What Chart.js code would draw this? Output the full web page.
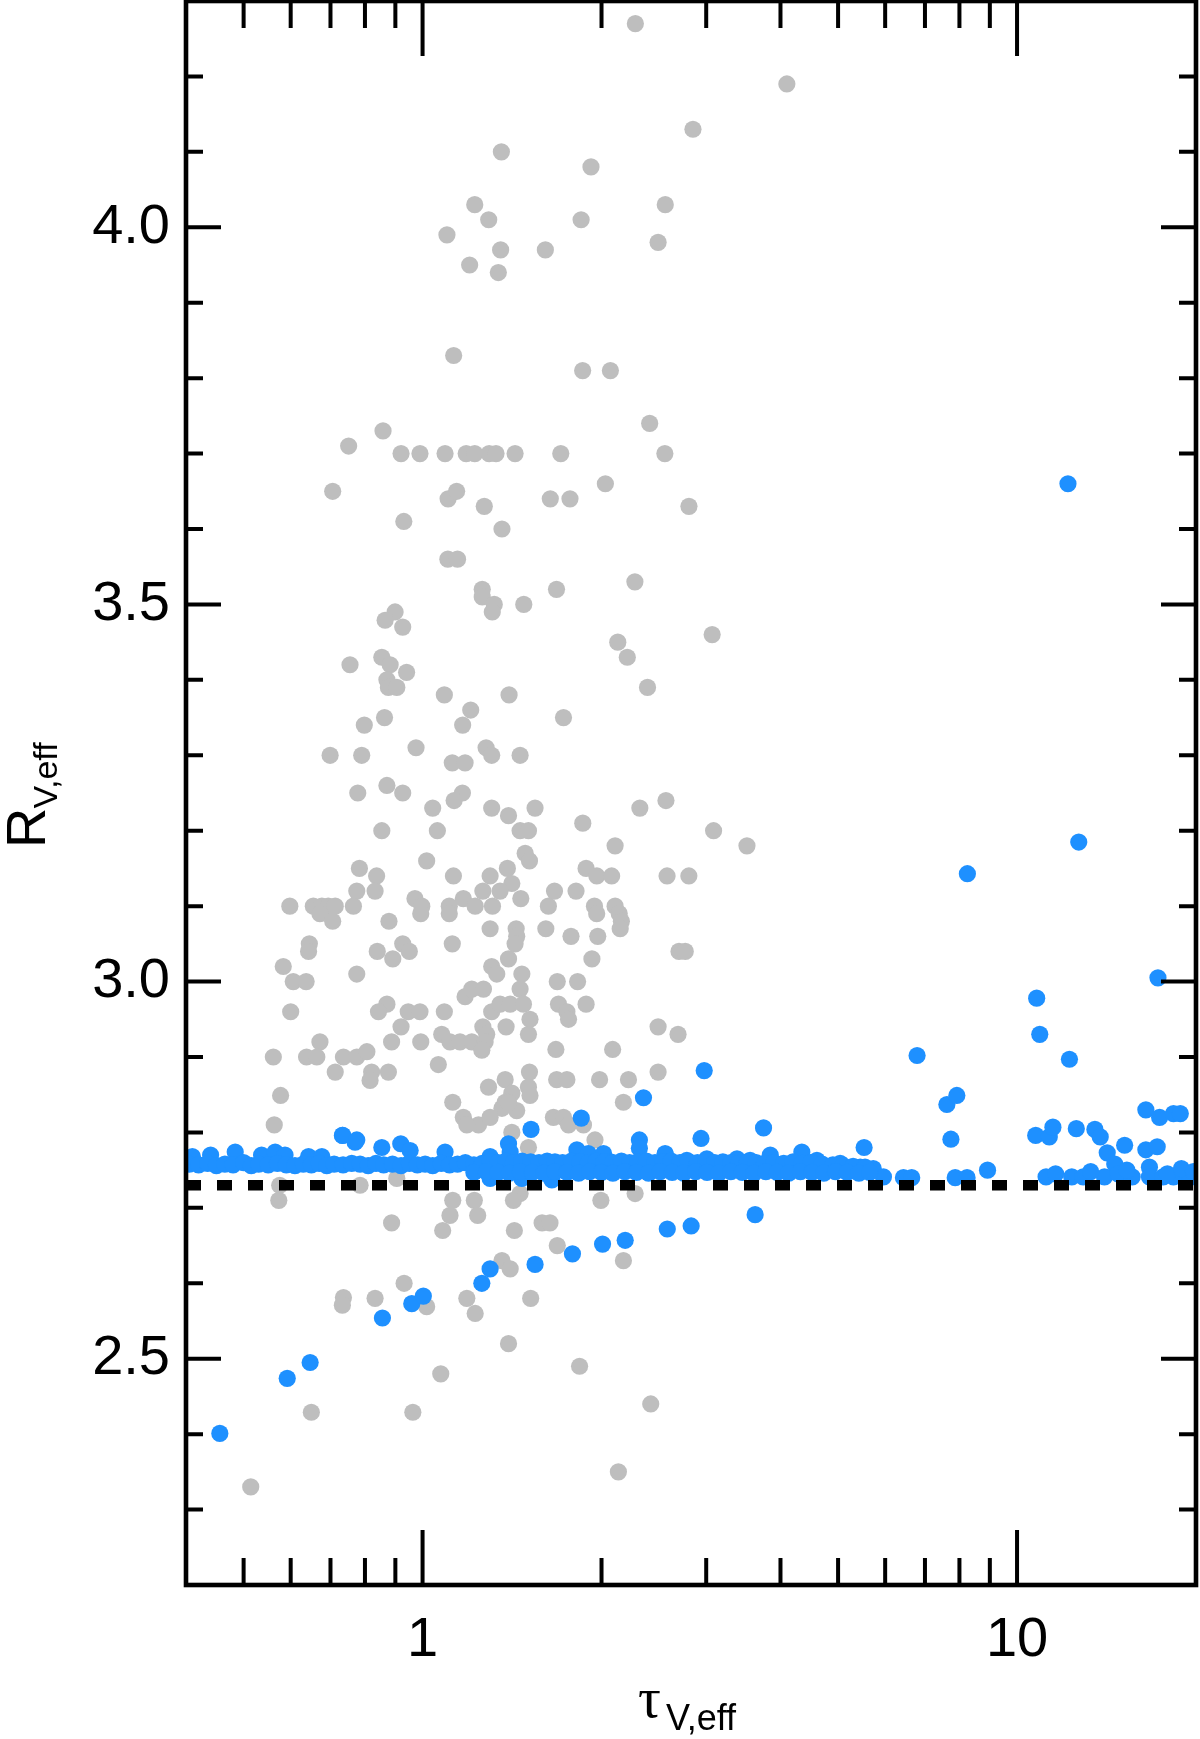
<!DOCTYPE html>
<html>
<head>
<meta charset="utf-8">
<script src="https://cdn.jsdelivr.net/npm/chart.js@4.4.1/dist/chart.umd.min.js"></script>
<style>
  html, body { margin: 0; padding: 0; background: #fff; }
  #container { width: 1200px; height: 1739px; }
</style>
</head>
<body>
<div id="container">
    <canvas id="scatterChart" width="1200" height="1739"></canvas>
</div>

<script>
    // axis ticks
    var tauTicks = [0.5, 0.6, 0.7, 0.8, 0.9, 1, 2, 3, 4, 5, 6, 7, 8, 9, 10];
    var tauLabels = [1, 10];
    var rTicks = [2.2, 2.3, 2.4, 2.5, 2.6, 2.7, 2.8, 2.9, 3.0, 3.1, 3.2, 3.3, 3.4, 3.5, 3.6, 3.7, 3.8, 3.9, 4.0, 4.1, 4.2, 4.3];
    var rLabels = [2.5, 3.0, 3.5, 4.0];
    var refR = 2.73;

    // grey points
    var grayTau = [
        2.28, 4.10, 2.85, 1.357, 1.92, 1.224, 2.56, 1.292, 1.848, 1.099,
        2.49, 1.353, 1.609, 1.20, 1.341, 1.128, 1.859, 2.07, 2.41, 0.858,
        0.751, 0.920, 0.990, 1.091, 1.184, 1.224, 1.294, 1.329, 1.431, 1.708,
        2.556, 0.706, 1.104, 1.141, 1.27, 0.93, 1.36, 1.64, 1.77, 2.03,
        2.806, 1.103, 1.145, 1.26, 1.26, 1.32, 1.31, 1.48, 1.68, 2.276,
        3.07, 2.13, 2.21, 2.39, 0.899, 0.865, 0.926, 0.755, 0.854, 0.882,
        0.94, 0.871, 0.876, 0.905, 1.088, 1.398, 1.205, 1.168, 1.726, 0.863,
        0.798, 0.699, 0.790, 0.975, 1.279, 1.307, 1.459, 1.122, 1.179, 0.778,
        0.871, 0.926, 1.167, 1.130, 1.040, 1.307, 1.395, 1.546, 1.86, 2.32,
        2.567, 0.854, 1.059, 1.459, 1.507, 1.488, 1.513, 2.108, 1.016, 0.783,
        0.837, 0.775, 0.832, 0.765, 1.127, 1.299, 1.389, 1.413, 1.263, 1.35,
        1.463, 1.884, 1.964, 2.08, 2.578, 1.667, 1.812, 1.628, 1.946, 1.963,
        2.108, 2.142, 2.16, 2.15, 0.598, 0.655, 0.677, 0.694, 0.713, 0.672,
        0.706, 0.971, 0.997, 0.993, 1.109, 1.109, 1.171, 1.226, 1.311, 0.878,
        1.299, 1.437, 1.44, 1.431, 1.612, 1.777, 1.971, 0.645, 0.643, 0.583,
        0.606, 0.637, 0.600, 0.775, 0.839, 0.891, 0.926, 0.950, 1.122, 1.395,
        1.307, 1.333, 1.469, 1.459, 1.685, 1.823, 1.927, 2.70, 1.179, 1.21,
        1.266, 0.871, 0.843, 0.946, 0.990, 1.088, 1.307, 1.35, 1.404, 1.478,
        1.516, 1.507, 1.693, 1.749, 1.760, 1.884, 0.920, 1.263, 1.282, 1.382,
        1.077, 1.112, 1.156, 1.21, 1.274, 2.49, 2.69, 0.672, 0.887, 0.993,
        0.561, 0.638, 0.664, 0.736, 0.775, 0.806, 0.713, 0.821, 0.876, 0.816,
        1.063, 1.258, 1.513, 1.507, 1.516, 1.377, 1.291, 1.413, 1.377, 1.36,
        1.44, 1.395, 1.676, 2.088, 1.681, 1.749, 1.985, 2.22, 2.49, 1.124,
        1.171, 1.242, 1.299, 1.187, 1.66, 1.726, 1.76, 1.865, 2.177, 1.95,
        1.413, 1.507, 0.563, 0.577, 0.575, 0.573, 0.785, 0.905, 1.459, 1.422,
        1.124, 1.112, 1.222, 1.238, 0.887, 1.081, 1.427, 1.589, 1.638, 1.995,
        2.278, 1.685, 2.177, 1.36, 1.404, 0.931, 0.736, 0.733, 0.832, 1.016,
        1.187, 1.226, 1.52, 1.395, 1.837, 1.073, 0.650, 0.963, 2.42, 0.514,
        2.135, 3.087, 3.513, 2.805, 2.766
    ];
    var grayR = [
        4.27, 4.19, 4.13, 4.10, 4.08, 4.03, 4.03, 4.01, 4.01, 3.99,
        3.98, 3.97, 3.97, 3.95, 3.94, 3.83, 3.81, 3.81, 3.74, 3.73,
        3.71, 3.70, 3.70, 3.70, 3.70, 3.70, 3.70, 3.70, 3.70, 3.70,
        3.70, 3.65, 3.64, 3.65, 3.63, 3.61, 3.60, 3.64, 3.64, 3.66,
        3.63, 3.56, 3.56, 3.52, 3.51, 3.50, 3.49, 3.50, 3.52, 3.53,
        3.46, 3.45, 3.43, 3.39, 3.49, 3.479, 3.47, 3.42, 3.43, 3.42,
        3.41, 3.40, 3.39, 3.39, 3.38, 3.38, 3.36, 3.34, 3.35, 3.35,
        3.34, 3.30, 3.30, 3.31, 3.31, 3.30, 3.30, 3.29, 3.29, 3.25,
        3.26, 3.25, 3.25, 3.24, 3.23, 3.23, 3.22, 3.23, 3.21, 3.23,
        3.24, 3.20, 3.20, 3.20, 3.20, 3.17, 3.16, 3.18, 3.16, 3.15,
        3.14, 3.12, 3.12, 3.10, 3.14, 3.14, 3.15, 3.13, 3.12, 3.12,
        3.11, 3.15, 3.14, 3.14, 3.14, 3.12, 3.12, 3.10, 3.10, 3.09,
        3.10, 3.09, 3.08, 3.07, 3.10, 3.10, 3.10, 3.10, 3.10, 3.09,
        3.08, 3.11, 3.10, 3.09, 3.10, 3.09, 3.11, 3.10, 3.10, 3.08,
        3.07, 3.07, 3.06, 3.05, 3.07, 3.06, 3.06, 3.05, 3.04, 3.02,
        3.00, 3.00, 2.96, 3.01, 3.04, 3.03, 3.05, 3.04, 3.05, 3.03,
        3.02, 3.01, 3.01, 2.99, 3.00, 3.00, 3.03, 3.04, 2.98, 2.99,
        2.99, 2.97, 2.96, 2.96, 2.96, 2.96, 2.96, 2.97, 2.97, 2.97,
        2.95, 2.93, 2.97, 2.96, 2.95, 2.97, 2.94, 2.94, 2.93, 2.94,
        2.93, 2.92, 2.92, 2.92, 2.92, 2.94, 2.93, 2.92, 2.92, 2.92,
        2.90, 2.90, 2.90, 2.90, 2.90, 2.907, 2.88, 2.88, 2.88, 2.869,
        2.89, 2.909, 2.88, 2.86, 2.849, 2.87, 2.86, 2.852, 2.84, 2.832,
        2.829, 2.84, 2.91, 2.91, 2.87, 2.87, 2.87, 2.87, 2.88, 2.84,
        2.82, 2.81, 2.82, 2.81, 2.82, 2.82, 2.81, 2.81, 2.84, 2.79,
        2.80, 2.78, 2.81, 2.849, 2.73, 2.71, 2.73, 2.739, 2.719, 2.71,
        2.71, 2.69, 2.71, 2.69, 2.68, 2.67, 2.67, 2.68, 2.68, 2.71,
        2.719, 2.65, 2.63, 2.63, 2.619, 2.60, 2.581, 2.571, 2.58, 2.569,
        2.58, 2.56, 2.58, 2.52, 2.49, 2.48, 2.429, 2.429, 2.44, 2.33,
        2.35, 3.20, 3.18, 3.14, 3.04
    ];

    // blue points
    var blueTau = [
        0.456, 0.592, 0.647, 0.856, 0.959, 1.003, 1.258, 1.299, 1.546, 1.787,
        2.008, 2.192, 2.58, 2.83, 3.626, 2.353, 1.849, 1.522, 2.977, 2.94,
        3.746, 5.53, 2.316, 2.316, 2.56, 0.734, 0.770, 7.62, 7.92, 7.74,
        8.92, 6.44, 6.65, 7.87, 8.24, 12.18, 12.70, 8.25, 17.26, 10.79,
        10.92, 12.25, 6.79, 16.47, 17.37, 18.33, 18.82, 10.75, 11.33, 11.49,
        12.58, 13.52, 13.80, 14.18, 15.17, 16.47, 17.21, 16.70, 19.07, 14.6,
        11.19, 11.61, 12.36, 12.92, 14.03, 14.80, 15.62, 16.70, 17.61, 18.33,
        19.59, 13.3, 15.3, 17.9, 18.9, 19.8,
        0.41, 0.44, 0.484, 0.536, 0.565, 0.587, 0.643, 0.677, 0.733, 0.775,
        0.854, 0.919, 0.953, 1.091, 1.299, 1.395, 1.404, 1.818, 1.90, 2.016,
        2.068, 2.178, 2.339, 2.559, 2.576, 2.783, 3.007, 3.38, 3.556, 3.845,
        3.998, 4.345, 4.606, 5.04, 5.45, 5.73, 5.96, 1.299, 1.469, 1.65,
        0.405, 0.42, 0.435, 0.45, 0.465, 0.48, 0.50, 0.515, 0.53, 0.55,
        0.57, 0.59, 0.61, 0.63, 0.65, 0.67, 0.69, 0.71, 0.735, 0.76,
        0.785, 0.81, 0.835, 0.86, 0.89, 0.92, 0.95, 0.98, 1.01, 1.04,
        1.075, 1.11, 1.145, 1.18, 1.22, 1.26, 1.30, 1.34, 1.38, 1.42,
        1.47, 1.52, 1.57, 1.62, 1.67, 1.72, 1.78, 1.84, 1.90, 1.96,
        2.02, 2.09, 2.16, 2.23, 2.30, 2.38, 2.46, 2.54, 2.62, 2.71,
        2.80, 2.90, 3.00, 3.10, 3.20, 3.30, 3.40, 3.52, 3.64, 3.76,
        3.90, 4.05, 4.20, 4.35, 4.50, 4.70, 4.90, 5.10, 5.30, 5.55,
        1.22, 1.28, 1.34, 1.40, 1.46, 1.53, 1.60, 1.67, 1.75, 1.83,
        1.91, 2.00, 2.09, 2.19, 2.29, 2.40, 2.51, 2.63, 2.75, 2.88,
        3.01, 3.15, 3.30, 3.45, 3.61, 3.78, 3.95, 4.13, 4.32, 4.52,
        4.73, 4.95, 5.18, 5.42, 5.65
    ];
    var blueR = [
        2.401, 2.474, 2.495, 2.554, 2.573, 2.583, 2.600, 2.619, 2.625, 2.639,
        2.652, 2.657, 2.672, 2.676, 2.691, 2.846, 2.819, 2.804, 2.882, 2.792,
        2.806, 2.780, 2.790, 2.779, 2.771, 2.796, 2.787, 2.837, 2.849, 2.791,
        2.750, 2.740, 2.740, 2.740, 2.740, 3.660, 3.185, 3.143, 3.005, 2.978,
        2.930, 2.897, 2.902, 2.830, 2.820, 2.825, 2.825, 2.796, 2.794, 2.807,
        2.805, 2.804, 2.794, 2.773, 2.783, 2.777, 2.781, 2.754, 2.746, 2.758,
        2.741, 2.745, 2.741, 2.741, 2.741, 2.745, 2.741, 2.741, 2.741, 2.741,
        2.741, 2.748, 2.750, 2.745, 2.752, 2.748,
        2.768, 2.770, 2.774, 2.770, 2.774, 2.770, 2.768, 2.768, 2.796, 2.790,
        2.780, 2.785, 2.776, 2.774, 2.768, 2.785, 2.774, 2.777, 2.772, 2.772,
        2.761, 2.757, 2.759, 2.772, 2.761, 2.763, 2.765, 2.765, 2.763, 2.770,
        2.757, 2.774, 2.763, 2.759, 2.754, 2.752, 2.741, 2.739, 2.739, 2.737,
        2.758, 2.757, 2.759, 2.756, 2.758, 2.757, 2.760, 2.756, 2.758, 2.757,
        2.759, 2.757, 2.756, 2.758, 2.757, 2.759, 2.756, 2.758, 2.757, 2.759,
        2.758, 2.756, 2.759, 2.757, 2.758, 2.756, 2.759, 2.757, 2.758, 2.756,
        2.759, 2.757, 2.758, 2.760, 2.757, 2.759, 2.761, 2.760, 2.762, 2.760,
        2.762, 2.761, 2.760, 2.762, 2.761, 2.760, 2.762, 2.761, 2.760, 2.762,
        2.761, 2.760, 2.762, 2.760, 2.761, 2.762, 2.760, 2.761, 2.762, 2.760,
        2.761, 2.760, 2.762, 2.760, 2.761, 2.760, 2.759, 2.761, 2.760, 2.759,
        2.760, 2.759, 2.761, 2.759, 2.760, 2.758, 2.757, 2.756, 2.755, 2.754,
        2.747, 2.748, 2.747, 2.746, 2.748, 2.747, 2.746, 2.748, 2.747, 2.746,
        2.748, 2.747, 2.746, 2.748, 2.747, 2.746, 2.748, 2.747, 2.746, 2.748,
        2.747, 2.746, 2.748, 2.747, 2.746, 2.748, 2.747, 2.746, 2.748, 2.747,
        2.746, 2.748, 2.747, 2.746, 2.747
    ];

    function pairs(xs, ys) {
        return xs.map(function (x, i) { return {x: x, y: ys[i]}; });
    }

    // inward ticks, frame and axis titles
    var idlAxes = {
        id: 'idlAxes',
        afterDatasetsDraw: function (chart) {
            var ctx = chart.ctx, a = chart.chartArea;
            var xs = chart.scales.x, ys = chart.scales.y;
            ctx.save();
            ctx.strokeStyle = '#000';
            ctx.lineCap = 'butt';
            ctx.lineWidth = 4;
            ctx.beginPath();
            tauTicks.forEach(function (v) {
                var px = xs.getPixelForValue(v);
                var len = tauLabels.indexOf(v) >= 0 ? 55 : 27;
                ctx.moveTo(px, a.bottom); ctx.lineTo(px, a.bottom - len);
                ctx.moveTo(px, a.top); ctx.lineTo(px, a.top + len);
            });
            rTicks.forEach(function (v) {
                var py = ys.getPixelForValue(v);
                var len = rLabels.indexOf(v) >= 0 ? 35 : 17;
                ctx.moveTo(a.left, py); ctx.lineTo(a.left + len, py);
                ctx.moveTo(a.right, py); ctx.lineTo(a.right - len, py);
            });
            ctx.stroke();
            ctx.lineWidth = 4.6;
            ctx.strokeRect(a.left, a.top, a.right - a.left, a.bottom - a.top);

            // x title
            var cx = (a.left + a.right) / 2;
            ctx.fillStyle = '#000';
            ctx.textAlign = 'left';
            ctx.textBaseline = 'alphabetic';
            ctx.font = '57px "Liberation Serif"';
            ctx.fillText('\u03C4', cx - 53, a.bottom + 132);
            ctx.font = '36px "Liberation Sans"';
            ctx.fillText('V,eff', cx - 25, a.bottom + 145);

            // y title
            var cy = (a.top + a.bottom) / 2;
            ctx.translate(45, cy + 55);
            ctx.rotate(-Math.PI / 2);
            ctx.font = '56px "Liberation Sans"';
            ctx.fillText('R', 0, 0);
            var w = ctx.measureText('R').width;
            ctx.font = '34px "Liberation Sans"';
            ctx.fillText('V,eff', w - 1, 12);
            ctx.restore();
        }
    };

    var ctxS = document.getElementById('scatterChart').getContext('2d');
    var myScatter = new Chart(ctxS, {
        type: 'scatter',
        data: {
            datasets: [
                {
                    type: 'line',
                    data: [{x: 0.4, y: refR}, {x: 20, y: refR}],
                    borderColor: '#000',
                    borderWidth: 10.7,
                    borderDash: [15, 16],
                    borderCapStyle: 'butt',
                    pointRadius: 0,
                    fill: false,
                    order: 0
                },
                {
                    data: pairs(blueTau, blueR),
                    backgroundColor: '#1E90FF',
                    borderWidth: 0,
                    pointRadius: 8.6,
                    order: 1
                },
                {
                    data: pairs(grayTau, grayR),
                    backgroundColor: '#BEBEBE',
                    borderWidth: 0,
                    pointRadius: 8.6,
                    order: 2
                }
            ]
        },
        options: {
            responsive: false,
            animation: false,
            events: [],
            layout: { autoPadding: false, padding: { left: 0, right: 4, top: 1, bottom: 0 } },
            plugins: { legend: { display: false }, tooltip: { enabled: false } },
            scales: {
                x: {
                    type: 'logarithmic',
                    min: 0.4,
                    max: 20,
                    grid: { display: false, drawTicks: false },
                    border: { display: false },
                    afterBuildTicks: function (axis) {
                        axis.ticks = tauTicks.map(function (v) { return {value: v}; });
                    },
                    afterFit: function (axis) {
                        axis.height = 154;
                        axis.paddingLeft = 0;
                        axis.paddingRight = 0;
                    },
                    ticks: {
                        autoSkip: false,
                        maxRotation: 0,
                        padding: 22,
                        color: '#000',
                        font: { family: '"Liberation Sans"', size: 56 },
                        callback: function (v) { return tauLabels.indexOf(v) >= 0 ? String(v) : ''; }
                    }
                },
                y: {
                    min: 2.2,
                    max: 4.3,
                    grid: { display: false, drawTicks: false },
                    border: { display: false },
                    afterBuildTicks: function (axis) {
                        axis.ticks = rTicks.map(function (v) { return {value: v}; });
                    },
                    afterFit: function (axis) {
                        axis.width = 186;
                        axis.paddingTop = 0;
                        axis.paddingBottom = 0;
                    },
                    ticks: {
                        autoSkip: false,
                        padding: 16,
                        color: '#000',
                        font: { family: '"Liberation Sans"', size: 56 },
                        callback: function (v) { return rLabels.indexOf(v) >= 0 ? v.toFixed(1) : ''; }
                    }
                }
            }
        },
        plugins: [idlAxes]
    });
</script>
</body>
</html>
